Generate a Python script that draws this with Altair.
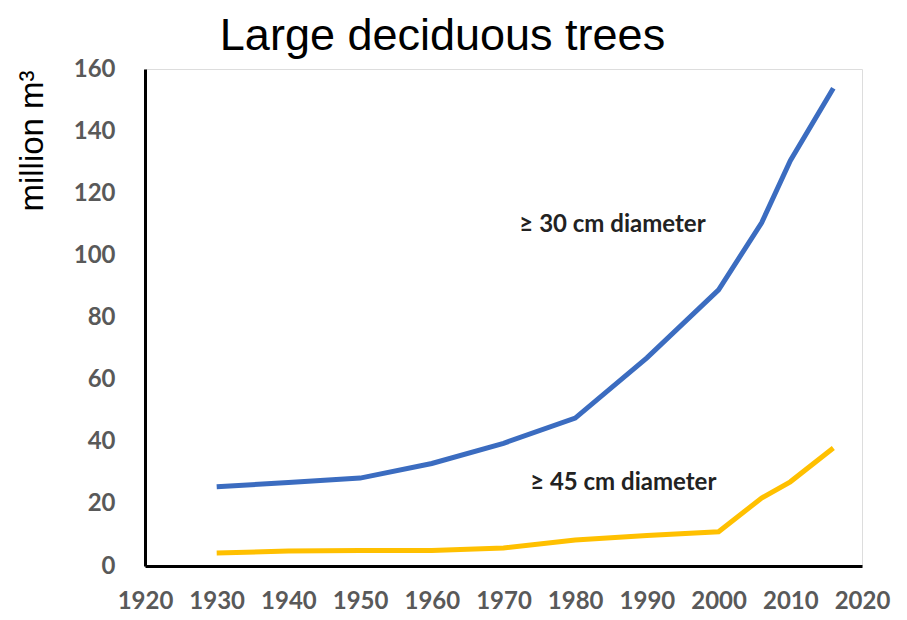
import altair as alt
import pandas as pd

years = [1930, 1940, 1950, 1960, 1970, 1980, 1990, 2000, 2006, 2010, 2016]
d30 = [25.5, 26.9, 28.3, 33.0, 39.5, 47.6, 67.0, 88.9, 110.5, 130.5, 153.8]
d45 = [4.2, 4.8, 5.0, 5.0, 5.8, 8.4, 9.8, 11.0, 21.9, 27.1, 38.0]
series_names = ["≥ 30 cm diameter", "≥ 45 cm diameter"]
series_colors = ["#3B6CC0", "#FFC000"]
label_years = [1985.2, 1986.7]
label_values = [109.8, 26.7]
x_ticks = list(range(1920, 2021, 10))
y_ticks = list(range(0, 161, 20))

rows = []
for y, a, b in zip(years, d30, d45):
    rows.append({"year": y, "value": a, "series": series_names[0]})
    rows.append({"year": y, "value": b, "series": series_names[1]})
df = pd.DataFrame(rows)
labels = pd.DataFrame({"year": label_years, "value": label_values, "text": series_names})

xenc = alt.X("year:Q", scale=alt.Scale(domain=[1920, 2020], nice=False, zero=False),
             axis=alt.Axis(values=x_ticks, format="d", title=None, ticks=False, grid=False,
                           labelFont="Lato", labelFontSize=24, labelFontWeight="bold",
                           labelColor="#595959", labelPadding=23, labelOverlap=False,
                           labelFlush=False,
                           domainColor="black", domainWidth=3))
yenc = alt.Y("value:Q", scale=alt.Scale(domain=[0, 160], nice=False),
             axis=alt.Axis(values=y_ticks, title=None, ticks=False, grid=False,
                           labelFont="Lato", labelFontSize=24, labelFontWeight="bold",
                           labelColor="#595959", labelPadding=30, labelOverlap=False,
                           domainColor="black", domainWidth=3))

lines = alt.Chart(df).mark_line(strokeWidth=5).encode(
    x=xenc, y=yenc,
    color=alt.Color("series:N", scale=alt.Scale(domain=series_names, range=series_colors), legend=None),
)

ann = alt.Chart(labels).mark_text(font="Lato", fontSize=24, fontWeight="bold", color="#222222",
                                  align="center", baseline="middle").encode(
    x="year:Q", y="value:Q", text="text:N")

title = alt.Chart(pd.DataFrame({"t": ["Large deciduous trees"]})).mark_text(
    font="Liberation Sans", fontSize=45, color="black", align="center", baseline="alphabetic"
).encode(x=alt.value(297.5), y=alt.value(-19), text="t:N")

ytitle = alt.Chart(pd.DataFrame({"t": ["million m³"]})).mark_text(
    font="Liberation Sans", fontSize=33, color="black", align="center", baseline="alphabetic", angle=270
).encode(x=alt.value(-102), y=alt.value(72), text="t:N")

chart = alt.layer(lines, ann, title, ytitle).properties(
    width=717, height=497,
    autosize=alt.AutoSizeParams(type="none"),
    padding={"left": 137, "top": 61, "right": 30, "bottom": 50},
).configure_view(stroke=None).configure(background="white")

chart.save("out.html", embed_options={"renderer": "svg", "actions": False})
